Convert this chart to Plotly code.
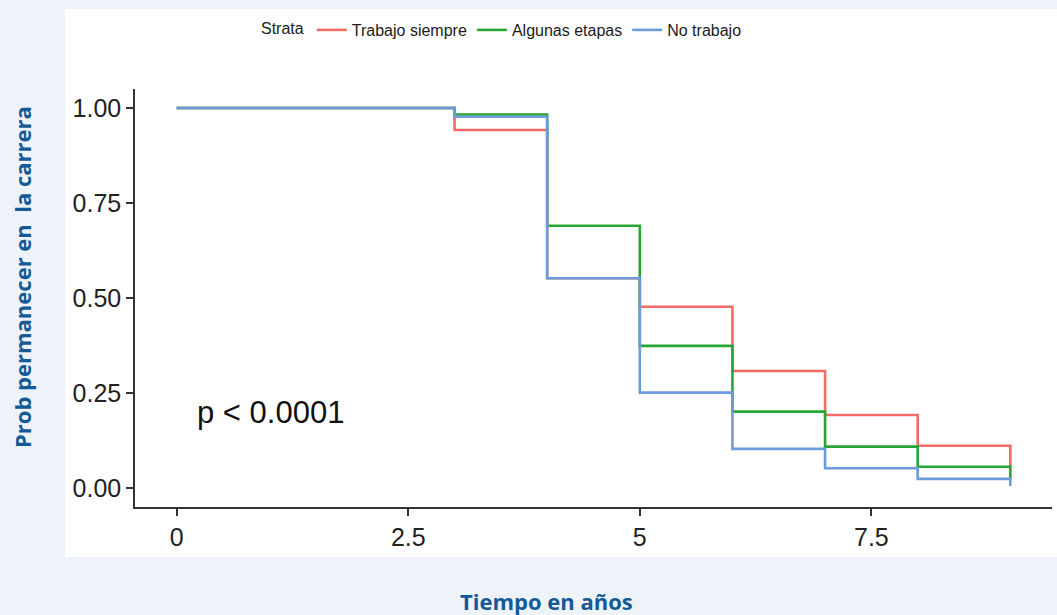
import plotly.graph_objects as go

# ---- data ----
times = [0, 3, 4, 5, 6, 7, 8, 9]
trabajo_siempre = [1.0, 0.942, 0.552, 0.477, 0.308, 0.192, 0.111, 0.056]
algunas_etapas = [1.0, 0.983, 0.690, 0.374, 0.201, 0.109, 0.056, 0.024]
no_trabajo = [1.0, 0.977, 0.552, 0.251, 0.103, 0.052, 0.024, 0.005]
series_names = ["Trabajo siempre", "Algunas etapas", "No trabajo"]
series_colors = ["#F26B64", "#26A532", "#6B9BDC"]
x_tickvals = [0, 2.5, 5, 7.5]
x_ticktext = ["0", "2.5", "5", "7.5"]
y_tickvals = [0, 0.25, 0.5, 0.75, 1.0]
y_ticktext = ["0.00", "0.25", "0.50", "0.75", "1.00"]
p_text = "p < 0.0001"

W, H = 1057, 615
L, R, T, B = 135, 5, 89, 108
pw, ph = W - L - R, H - T - B

def px_x(x):
    return (x - L) / pw

def px_y(y):
    return (H - B - y) / ph

fig = go.Figure()
for name, vals, col in zip(series_names, [trabajo_siempre, algunas_etapas, no_trabajo], series_colors):
    fig.add_trace(go.Scatter(x=times, y=vals, mode="lines", name=name,
                             line=dict(color=col, width=2.6, shape="hv")))

tick_font = dict(family="Liberation Sans, Arial, sans-serif", size=25, color="#222222")
title_font = dict(family="Open Sans, Noto Sans, sans-serif", size=22, color="#135A96")
legend_font = dict(family="Liberation Sans, Arial, sans-serif", size=16, color="#1a1a1a")

fig.update_layout(
    width=W, height=H,
    margin=dict(l=L, r=R, t=T, b=B),
    paper_bgcolor="#EEF3F9",
    plot_bgcolor="white",
    showlegend=True,
    legend=dict(
        orientation="h", x=px_x(259), xanchor="left", y=px_y(30), yanchor="middle",
        title=dict(text="Strata", font=legend_font),
        font=legend_font,
        bgcolor="rgba(0,0,0,0)", itemwidth=30,
    ),
    xaxis=dict(range=[-0.45, 9.45], tickvals=x_tickvals, ticktext=x_ticktext,
               showgrid=False, zeroline=False, showline=True, linecolor="#333333", linewidth=1.5,
               ticks="outside", ticklen=7, tickwidth=1.5, tickcolor="#333333",
               tickfont=tick_font),
    yaxis=dict(range=[-0.05, 1.05], tickvals=y_tickvals, ticktext=y_ticktext,
               showgrid=False, zeroline=False, showline=True, linecolor="#333333", linewidth=1.5,
               ticks="outside", ticklen=7, tickwidth=1.5, tickcolor="#333333",
               tickfont=tick_font),
    shapes=[dict(type="rect", xref="paper", yref="paper",
                 x0=px_x(65), x1=px_x(1060), y0=px_y(557), y1=px_y(9),
                 fillcolor="white", line=dict(width=0), layer="below")],
    annotations=[
        dict(text=p_text, x=0.2, y=0.2, xref="x", yref="y", xanchor="left", yanchor="middle",
             showarrow=False, font=dict(family="Liberation Sans, Arial, sans-serif", size=31, color="#111111")),
        dict(text="<b>Tiempo en años</b>", x=px_x(546), y=px_y(601), xref="paper", yref="paper",
             xanchor="center", yanchor="middle", showarrow=False, font=title_font),
        dict(text="<b>Prob permanecer en  la carrera</b>", x=px_x(22), y=px_y(277), xref="paper", yref="paper",
             xanchor="center", yanchor="middle", textangle=-90, showarrow=False, font=title_font),
    ],
)

fig.write_html("out.html", config={"displayModeBar": False},
               post_script="document.body.style.margin='0';document.body.style.background='#EEF3F9';")
